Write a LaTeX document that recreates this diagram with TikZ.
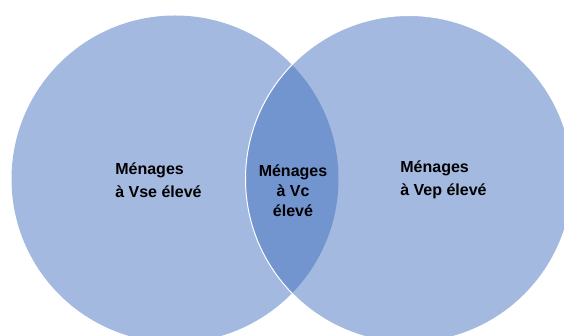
\documentclass[tikz,border=0pt]{standalone}
\usepackage{fontspec}
\setmainfont{Liberation Sans}
\definecolor{setfill}{RGB}{163,185,224}
\definecolor{lensfill}{RGB}{114,148,207}

\begin{document}
\begin{tikzpicture}[x=1pt,y=1pt,
    settext/.style={font=\bfseries\fontsize{16}{23}\selectfont, align=left, inner sep=0pt},
    lenstext/.style={font=\bfseries\fontsize{16}{20}\selectfont, align=center, inner sep=0pt}]
      \useasboundingbox (0,0) rectangle (564,336);

      % the two sets
      \fill[setfill] (175,157) circle (163.5);
      \fill[setfill] (409,157) circle (163.5);

      % overlap
      \begin{scope}
        \clip (175,157) circle (163.5);
        \fill[lensfill] (409,157) circle (163.5);
      \end{scope}
      \draw[white, line width=1pt] (409,157) circle (163.5);

      \node[settext] (vse) at (158.5,156) {Ménages\\à Vse élevé};
      \node[settext] (vep) at (443.5,156) {Ménages\\à Vep élevé};
      \node[lenstext] (vc) at (293,145) {Ménages\\à Vc\\élevé};
    \end{tikzpicture}
\end{document}
